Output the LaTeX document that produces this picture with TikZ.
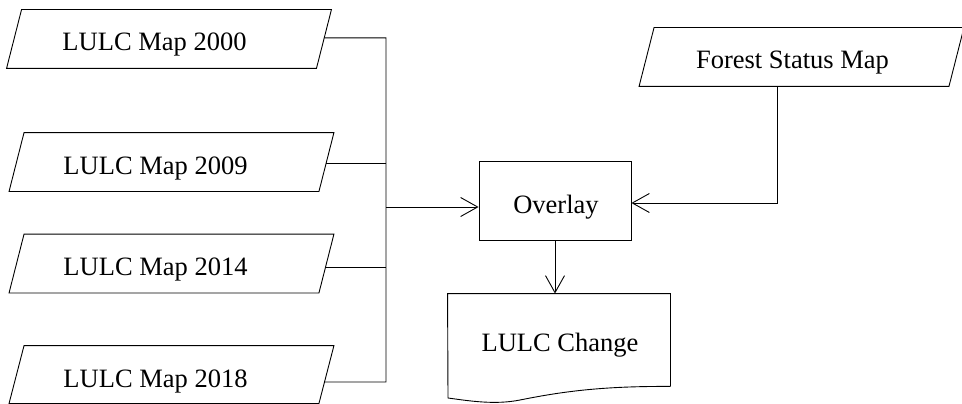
\documentclass[tikz,border=0pt]{standalone}
\usepackage{fontspec}
\setmainfont{Liberation Serif}
\usetikzlibrary{arrows.meta,calc}
\begin{document}
\begin{tikzpicture}[x=1pt,y=-1pt,
  line width=0.9pt,
  mapbox/.style={rectangle, minimum width=309pt, minimum height=58pt, inner sep=0pt},
  procbox/.style={draw, rectangle, minimum width=152pt, minimum height=79pt, inner sep=0pt},
  docbox/.style={rectangle, minimum width=222pt, minimum height=92pt, inner sep=0pt},
  lbl/.style={inner sep=0pt, anchor=base, font=\fontsize{26.5}{30}\selectfont},
  arr/.style={-{Straight Barb[length=17pt,width=19pt]}}
]
\useasboundingbox (0,0) rectangle (962,404);

% input maps (parallelograms drawn round each body)
\node[mapbox] (m1) at (169,39) {};
\node[mapbox] (m2) at (171.5,162) {};
\node[mapbox] (m3) at (171.5,263.5) {};
\node[mapbox, minimum height=57pt] (m4) at (171.5,374.5) {};
\node[mapbox] (fs) at (801.5,57) {};
\foreach \n in {m1,m2,m3,m4,fs}{
  \coordinate (\n-tl) at ([xshift=7.5pt]\n.north west);
  \coordinate (\n-tr) at ([xshift=7.5pt]\n.north east);
  \coordinate (\n-br) at ([xshift=-7.5pt]\n.south east);
  \coordinate (\n-bl) at ([xshift=-7.5pt]\n.south west);
  \draw (\n-bl) -- (\n-tl) -- (\n-tr) -- (\n-br) -- cycle;
}

\node[lbl] (t1) at (154.5,51) {LULC Map 2000};
\node[lbl] (t2) at (155.5,174) {LULC Map 2009};
\node[lbl] (t3) at (155.5,275) {LULC Map 2014};
\node[lbl] (t4) at (155.5,387) {LULC Map 2018};
\node[lbl] (tf) at (792.5,69) {Forest Status Map};

% overlay process
\node[procbox] (ov) at (555,200.5) {};
\node[lbl] (to) at (556,213) {Overlay};

% output document with wavy lower edge
\node[docbox] (doc) at (559,340) {};
\draw (doc.south east) -- (doc.north east) -- (doc.north west) -- (448,398)
  .. controls (470,401) and (495,405) .. (520,400)
  .. controls (560,392) and (600,386) .. (doc.south east);
\node[lbl] (tc) at (560,351) {LULC Change};

% collecting bus
\coordinate (busb) at (386,382);
\coordinate (jl) at (386,207);
\coordinate (fc) at (777,203);

\coordinate (e1) at ($(m1-tr)!0.48!(m1-br)$);
\coordinate (e2) at ($(m2-tr)!0.53!(m2-br)$);
\coordinate (e3) at ($(m3-tr)!0.56!(m3-br)$);
\coordinate (e4) at ($(m4-tr)!0.63!(m4-br)$);

\draw (e1) -| (busb) -- (e4);
\draw (e2) -- (e2 -| busb);
\draw (e3) -- (e3 -| busb);
\draw[arr] (jl) -- (ov.west |- jl);
\draw[arr] (fs.south -| fc) -- (fc) -- (ov.east |- fc);
\draw[arr] (ov.south) -- (ov.south |- doc.north);
\end{tikzpicture}
\end{document}
